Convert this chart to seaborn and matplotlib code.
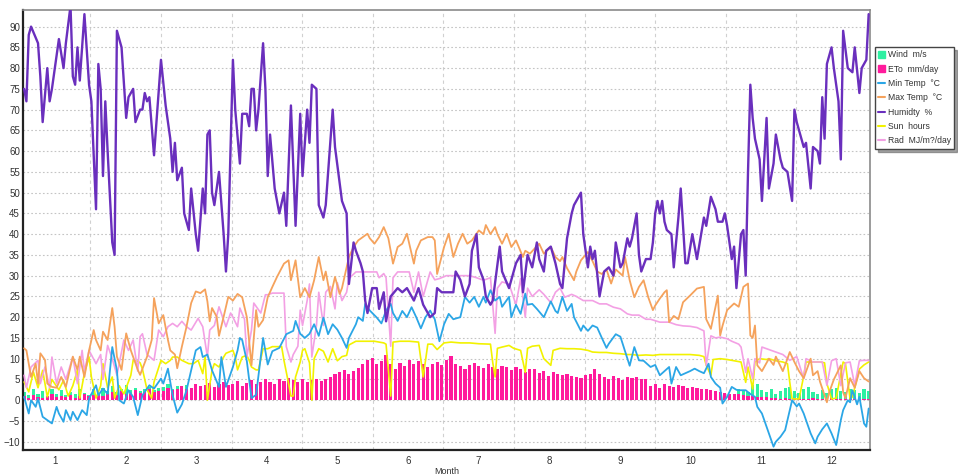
import numpy as np
import pandas as pd
import matplotlib
matplotlib.use("Agg")
import matplotlib.pyplot as plt
import matplotlib.patches as mpatches
from matplotlib.lines import Line2D
from matplotlib.ticker import FixedLocator
import seaborn as sns

months = list(range(1, 13))
y_ticks = list(range(-10, 95, 5))

# bar series, one value every second day of the year
bar_days = list(range(1, 366, 2))
eto = [1.0, 0.6, 1.2, 0.8, 0.5, 1.0, 1.4, 0.7, 1.1, 0.8, 1.2, 0.6, 1.0, 1.5, 0.9,
       1.2, 1.8, 1.0, 1.6, 2.0, 1.3, 2.2, 1.6, 1.4, 2.4, 1.8, 2.0, 2.6, 1.9, 2.3,
       2.2, 3.0, 2.5, 2.8, 3.4, 2.6, 3.0, 4.0, 3.3, 3.6, 4.2, 3.2, 3.8, 4.4, 3.6,
       3.8, 4.6, 3.4, 4.2, 4.8, 3.9, 4.4, 5.2, 4.5, 4.0, 5.0, 4.6, 5.4, 4.8, 4.4,
       5.0, 4.4, 4.8, 5.2, 4.6, 5.0, 5.6, 6.2, 6.8, 7.2, 6.4, 7.0, 7.8, 8.6, 9.6,
       10.2, 8.6, 9.4, 11.0, 8.8, 7.4, 9.0, 8.2, 9.6, 8.8, 9.4, 8.6, 8.0, 8.8, 9.2,
       8.4, 9.6, 10.6, 8.8, 8.2, 7.6, 8.4, 9.0, 8.2, 7.8, 8.6, 8.0, 7.4, 8.2, 8.0,
       7.2, 8.0, 7.4, 6.8, 7.6, 7.4, 6.6, 7.0, 5.8, 6.8, 6.2, 6.0, 6.4, 5.8, 5.6,
       5.4, 6.0, 6.2, 7.6, 6.4, 5.6, 5.2, 5.8, 5.4, 4.8, 5.6, 5.4, 5.6, 5.2, 5.0,
       3.4, 3.8, 3.0, 4.0, 3.5, 3.2, 3.6, 3.4, 3.0, 3.2, 2.9, 2.8, 2.6, 2.4, 2.2,
       2.0, 1.8, 1.6, 1.5, 1.4, 1.2, 1.1, 1.0, 0.8, 0.8, 0.7, 0.6, 0.5, 0.4, 0.5,
       0.4, 0.5, 0.4, 0.3, 0.4, 0.5, 0.4, 0.3, 0.4, 0.5, 0.4, 0.3, 0.4, 0.5, 0.4, 0.4, 0.3, 0.4]
wind = [2.0, 1.2, 2.6, 1.4, 2.2, 1.0, 2.8, 1.6, 2.4, 1.2, 2.0, 1.4, 2.6, 1.8, 1.2,
        2.6, 1.8, 3.0, 2.2, 3.4, 2.0, 2.8, 3.6, 2.4, 3.0, 2.2, 2.8, 3.2, 2.4, 3.0,
        3.2, 3.8, 2.6, 3.4, 3.0, 3.6, 2.8, 3.2, 3.0, 2.6, 3.2, 2.8, 3.0, 3.4, 2.8,
        2.8, 3.0, 2.6, 3.2, 2.8, 3.0, 2.6, 3.0, 2.8, 2.6, 3.0, 2.8, 3.2, 2.6, 3.0,
        3.0, 2.8, 3.2, 2.6, 3.0, 3.2, 2.8, 3.0, 3.4, 3.0, 3.2, 2.8, 3.0, 3.2, 3.0,
        3.2, 3.0, 3.4, 2.8, 3.2, 3.0, 3.4, 2.8, 3.0, 3.2, 3.0, 2.8, 3.2, 3.0, 3.2,
        3.0, 3.2, 2.8, 3.0, 3.2, 2.8, 3.0, 3.2, 2.8, 3.0, 3.2, 3.0, 2.8, 3.0, 3.2,
        2.8, 3.0, 2.6, 2.8, 3.0, 2.6, 2.8, 3.0, 2.6, 2.8, 3.0, 2.8, 2.6, 2.8, 2.6,
        2.6, 2.8, 2.4, 2.6, 2.8, 2.4, 2.6, 2.4, 2.6, 2.2, 2.4, 2.6, 2.2, 2.4, 2.2,
        2.0, 1.8, 2.2, 1.6, 2.0, 1.8, 1.6, 1.8, 1.4, 1.6, 1.8, 1.6, 1.4, 1.6, 1.4,
        1.6, 1.4, 1.2, 1.0, 2.8, 2.2, 2.0, 3.6, 4.0, 2.4, 2.0, 2.8, 1.6, 2.2, 3.0,
        3.2, 2.2, 1.8, 2.6, 3.2, 2.0, 1.6, 2.4, 1.8, 2.6, 3.0, 2.2, 2.0, 2.8, 2.4, 1.8, 2.6, 2.2]

# line series as (day of year, value)
humidity = [(1, 75), (2, 72), (3, 88), (4, 90), (7, 86), (8, 78), (9, 67), (11, 80), (12, 72), (13, 75),
            (16, 87), (18, 80), (19, 86), (21, 95), (22, 78), (23, 76), (24, 85), (25, 77), (27, 93), (29, 76),
            (30, 72), (32, 46), (33, 81), (34, 75), (35, 54), (36, 72), (37, 60), (39, 38), (40, 35), (41, 89),
            (43, 85), (45, 68), (46, 73), (48, 75), (49, 67), (51, 70), (52, 70), (53, 74), (54, 72), (55, 73),
            (57, 59), (60, 82), (62, 71), (64, 63), (65, 55), (66, 62), (67, 53), (69, 56), (70, 45), (72, 41),
            (73, 51), (75, 40), (76, 36), (78, 51), (79, 45), (80, 64), (81, 65), (82, 50), (83, 47), (85, 55),
            (87, 40), (88, 31), (89, 40), (91, 82), (92, 70), (94, 57), (95, 69), (97, 69), (98, 66), (99, 75),
            (100, 75), (101, 65), (102, 70), (104, 86), (105, 75), (106, 54), (107, 64), (109, 51), (111, 45), (113, 50),
            (114, 42), (116, 71), (118, 42), (120, 69), (121, 54), (123, 70), (124, 62), (125, 76), (127, 75), (128, 47),
            (130, 44), (131, 47), (134, 70), (135, 61), (138, 48), (140, 45), (141, 28), (143, 38), (144, 36), (146, 33),
            (147, 31), (148, 24), (149, 21), (151, 27), (153, 27), (154, 22), (156, 26), (157, 19), (159, 25), (162, 27),
            (164, 26), (166, 27), (168, 25), (169, 24), (171, 27), (173, 23), (176, 20), (178, 21), (179, 27), (181, 26),
            (183, 26), (186, 26), (187, 31), (189, 29), (191, 25), (193, 28), (194, 36), (196, 40), (197, 32), (199, 29),
            (200, 25), (202, 23), (203, 24), (206, 37), (207, 31), (210, 27), (213, 33), (215, 35), (216, 26), (218, 35),
            (220, 32), (222, 38), (223, 34), (225, 31), (226, 36), (228, 37), (230, 33), (232, 28), (233, 27), (235, 39),
            (237, 45), (238, 47), (241, 50), (242, 40), (244, 32), (245, 37), (246, 34), (247, 36), (249, 25), (251, 31),
            (253, 32), (255, 30), (256, 38), (258, 32), (259, 33), (261, 39), (262, 37), (263, 39), (265, 45), (266, 35),
            (267, 31), (269, 34), (271, 34), (272, 38), (273, 45), (274, 48), (275, 45), (276, 48), (277, 43), (278, 41),
            (280, 40), (281, 32), (283, 44), (284, 51), (286, 33), (287, 33), (289, 40), (291, 34), (294, 44), (295, 42),
            (297, 49), (299, 46), (300, 43), (302, 43), (303, 45), (304, 42), (306, 34), (307, 37), (308, 27), (310, 40),
            (311, 41), (312, 30), (313, 55), (314, 76), (315, 68), (316, 63), (318, 58), (319, 48), (321, 68), (322, 51),
            (324, 57), (325, 64), (327, 58), (328, 56), (330, 55), (332, 48), (333, 70), (334, 67), (337, 61), (338, 62),
            (340, 51), (341, 61), (343, 60), (344, 57), (345, 73), (346, 63), (347, 81), (349, 85), (350, 80), (352, 72),
            (353, 58), (354, 89), (356, 80), (358, 79), (359, 85), (361, 74), (362, 80), (364, 82), (365, 93)]

max_temp = [(1, 12.5), (2, 12), (4, 5.6), (6, 8.8), (7, 4), (8, 11.3), (10, 9.7), (11, 4), (13, 3.2), (15, 3),
            (17, 5.6), (19, 3.2), (22, 10.5), (24, 7.3), (25, 10.5), (27, 5.6), (29, 12), (31, 16.9), (32, 14.5), (34, 12),
            (35, 16.5), (37, 14.5), (39, 22.2), (40, 17.7), (41, 10.5), (43, 7.3), (45, 16.1), (47, 12), (50, 7.3), (51, 6.1),
            (54, 10.5), (56, 14.5), (57, 24.6), (59, 18.5), (61, 20.5), (63, 14.5), (64, 12), (66, 11), (67, 7.7), (69, 12.9),
            (71, 17.7), (73, 23.4), (75, 26.2), (77, 25.8), (79, 26.7), (80, 23.8), (81, 19), (82, 22.2), (84, 20.1), (85, 15.5),
            (87, 20.1), (89, 24.9), (91, 24), (93, 25.6), (95, 24.8), (97, 20), (99, 8.4), (101, 21.7), (102, 17.7), (104, 19.3),
            (106, 24.8), (108, 27.3), (110, 29.7), (113, 32.9), (115, 33.7), (116, 28.9), (118, 33.7), (120, 24.8), (122, 27), (124, 24.8),
            (126, 28.9), (128, 34.5), (130, 28.9), (131, 31), (133, 24.8), (135, 29.7), (137, 25.6), (138, 27), (141, 34.5), (143, 36.9),
            (145, 38.5), (147, 39.3), (149, 40.1), (150, 39), (152, 37.7), (154, 39.3), (156, 41.7), (158, 39), (160, 32.9), (162, 36.9),
            (164, 37.7), (166, 40.1), (169, 32.9), (170, 36), (172, 38.5), (175, 39.3), (177, 39.3), (178, 38.5), (179, 30.4), (182, 36.9),
            (184, 40.1), (186, 34.5), (188, 37.7), (190, 40.1), (192, 37.7), (194, 38.5), (197, 40.9), (199, 40), (200, 42.2), (202, 40),
            (204, 41.7), (205, 40), (207, 37.7), (209, 40.1), (211, 36.9), (213, 38.5), (216, 34.5), (217, 36), (219, 35.3), (221, 36.5),
            (223, 37.7), (225, 35.3), (228, 36.9), (230, 34.5), (232, 33.5), (233, 34.5), (235, 31.8), (238, 28.9), (239, 31), (241, 33.7),
            (244, 35.7), (246, 33.5), (248, 31), (250, 30.4), (252, 31.5), (254, 28.1), (256, 31.5), (259, 30), (260, 34.5), (262, 28.9),
            (264, 24.8), (266, 27.3), (268, 28.9), (270, 24.8), (272, 21.7), (273, 22.8), (275, 24.5), (277, 26), (278, 26.5), (279, 18.8),
            (281, 20.3), (283, 19.5), (285, 23.6), (288, 25.2), (291, 26.9), (294, 27.3), (295, 19.5), (297, 17.2), (300, 25.2), (301, 15.6),
            (302, 17.9), (304, 21.7), (307, 23.3), (309, 22.5), (311, 27.3), (313, 28.1), (314, 15.6), (315, 15), (316, 18), (317, 8.4),
            (319, 7), (322, 10), (324, 8.5), (325, 10.5), (328, 7), (330, 10), (331, 11.6), (333, 9.2), (335, 7), (337, 5.3),
            (340, 10), (341, 6), (343, 7), (344, 4.5), (347, -0.5), (348, 1.9), (350, 5), (353, 8.4), (354, 1.9), (355, 0.5),
            (357, 5.3), (359, 3), (361, 7), (363, 5.3), (365, 4.5)]

min_temp = [(1, 0.8), (3, -3.2), (4, 0), (6, -1.6), (7, 0.4), (9, -4), (11, -4.8), (13, -5.6), (15, -1.6), (16, -3.2),
            (18, -5.2), (19, -2.4), (21, -4.8), (22, -2.8), (24, -4.8), (26, -2.4), (28, -3.6), (29, 0.4), (32, 3.6), (33, 1.2),
            (35, 2.8), (37, 1.5), (39, 12.8), (41, 7.2), (42, 0), (44, -0.8), (46, 2.4), (48, 0.8), (50, -3.6), (52, 1.2),
            (55, 3.6), (57, 2.8), (60, 5.2), (61, 4), (63, 7.6), (65, 1.2), (67, -3), (69, -1), (71, 2.4), (73, 7.2),
            (75, 12), (77, 12.8), (78, 10.4), (80, 11), (82, 7.2), (85, 3.2), (86, 10.4), (88, 3.2), (91, 8), (93, 12),
            (94, 15), (95, 14.5), (97, 9.4), (99, 0.5), (101, 1.3), (104, 15), (106, 8.6), (108, 11.8), (111, 12.6), (114, 15.9),
            (117, 16.7), (118, 19.1), (120, 16), (122, 15), (124, 16), (126, 18.3), (128, 15.5), (130, 19.9), (132, 15.9), (134, 18.3),
            (136, 17), (138, 15), (140, 12.6), (141, 15), (144, 18.3), (145, 20), (147, 19.1), (148, 23.2), (150, 21.6), (153, 19.9),
            (155, 18.5), (157, 21.6), (159, 23.2), (160, 21), (162, 19.1), (164, 21.5), (166, 20), (168, 22.4), (170, 20), (172, 17.3),
            (174, 20), (176, 21.6), (178, 19.5), (180, 14.2), (182, 18.3), (184, 20.8), (186, 19.5), (189, 20), (191, 24.9), (193, 23.5),
            (195, 24.9), (197, 22.5), (199, 24.9), (200, 23.5), (202, 26.5), (204, 24), (206, 24.9), (207, 22.5), (210, 24.9), (211, 20),
            (213, 23), (215, 20.8), (217, 25.7), (218, 23), (220, 23.2), (222, 22), (225, 20), (228, 23.8), (230, 21.5), (231, 21),
            (233, 24.9), (235, 21.5), (237, 23.2), (238, 20), (241, 16.7), (242, 18), (244, 16.7), (246, 18), (248, 17.5), (250, 15),
            (252, 12.6), (253, 13.6), (256, 15.9), (258, 15.3), (260, 11.8), (262, 8.3), (264, 12.8), (266, 9.6), (268, 9.5), (271, 8),
            (273, 8.5), (275, 6), (277, 7), (279, 8), (280, 4), (282, 8), (284, 6), (286, 6.5), (288, 7), (290, 7.6),
            (292, 7), (294, 6.5), (296, 8.8), (297, 5.6), (299, 4), (301, 3), (302, -0.8), (304, 0.8), (306, 3.2), (308, 2.5),
            (309, 2.4), (312, 2.4), (314, 1.5), (316, 0.8), (317, -1.6), (319, -3.2), (321, -6.4), (324, -11.2), (325, -10), (327, -8.8),
            (329, -7.2), (331, -2.4), (332, 0), (334, -1.5), (335, -0.8), (337, -3.2), (340, -8), (342, -10.4), (343, -8.8), (345, -7),
            (347, -5.6), (349, -8), (351, -10.8), (353, -4.8), (354, -2.4), (356, 0), (357, -0.5), (358, 2.4), (360, -1), (361, 0.8),
            (363, -5.6), (364, -6.4), (365, -2)]

rad = [(1, 6), (2, 3), (4, 8), (7, 9.6), (8, 4), (10, 8), (12, 3), (13, 10.4), (15, 4), (17, 8),
       (19, 5), (22, 10.4), (24, 4), (26, 12), (27, 7), (29, 12), (32, 8.8), (34, 11), (35, 5), (37, 13.2),
       (39, 10), (41, 6), (44, 14.5), (46, 12), (48, 14.5), (50, 7), (51, 15.3), (52, 16), (54, 11), (57, 9.6),
       (59, 16.9), (61, 15.3), (63, 17.7), (65, 18.5), (67, 17.7), (69, 19), (71, 17.7), (73, 16.9), (76, 19.7), (78, 17.7),
       (80, 10.4), (81, 16.9), (83, 18), (85, 22.5), (88, 17.7), (90, 21), (91, 20), (93, 17.7), (94, 22.2), (96, 19.5),
       (97, 10.4), (99, 16.9), (100, 23.4), (103, 21), (105, 25.4), (106, 25.4), (108, 25.8), (110, 25.8), (113, 25.8), (114, 12.9),
       (116, 9.2), (117, 11), (119, 13), (120, 21.7), (121, 18), (123, 24), (124, 28), (125, 10.4), (127, 18), (128, 26),
       (130, 18), (131, 26), (133, 27.4), (135, 22), (136, 28.3), (138, 24), (140, 26), (141, 29.3), (144, 30.9), (147, 30.9),
       (150, 30.9), (153, 30.9), (154, 29.5), (156, 30.5), (157, 29.5), (159, 13), (160, 29.5), (162, 30.9), (167, 30.9), (169, 26),
       (171, 30.9), (173, 25), (176, 30.9), (178, 29), (180, 29.3), (183, 30), (187, 30), (190, 30), (193, 30), (196, 29.5),
       (199, 28.9), (202, 29.5), (204, 16.1), (205, 27), (207, 28.5), (210, 28), (213, 23), (215, 29.3), (217, 20), (218, 27),
       (220, 25), (223, 26.6), (225, 25.5), (228, 23.5), (230, 26), (232, 27), (234, 24.8), (237, 25.5), (239, 25), (242, 24),
       (246, 24), (249, 23.2), (252, 23.2), (255, 22.4), (258, 22), (261, 20.8), (263, 20.5), (266, 20.5), (269, 19.5), (271, 19.5),
       (275, 18.8), (279, 18.8), (282, 18.2), (285, 17.9), (288, 17.8), (291, 17.5), (294, 16.7), (295, 8.4), (297, 15.5), (299, 15),
       (301, 15.2), (304, 14.8), (306, 14.2), (309, 13.5), (310, 12.8), (312, 6.7), (313, 10), (315, 5.2), (316, 10), (318, 9),
       (319, 12.8), (322, 12.2), (325, 11.6), (328, 11), (331, 9.6), (334, 10.5), (337, 5.2), (338, 10), (341, 9.2), (344, 9.2),
       (345, 9.2), (347, 3.6), (349, 9.5), (351, 10), (353, 3.5), (355, 9), (357, 9.2), (359, 3.6), (361, 9.5), (363, 9.6),
       (365, 9.6)]

sun = [(1, 4.4), (3, 2), (5, 6.8), (7, 3), (9, 7.2), (11, 0.8), (13, 5), (16, 2.5), (18, 4.8), (20, 1),
       (22, 3.5), (24, 7.3), (25, 0.5), (27, 6.5), (29, 10.4), (30, 5.6), (32, 0.5), (34, 3.5), (35, 8.8), (37, 3),
       (39, 5.6), (40, 0.5), (42, 3.5), (44, 1.5), (47, 6), (48, 9.6), (50, 9.4), (51, 9), (52, 7.5), (54, 2.5),
       (56, 0.5), (57, 4.4), (60, 9.6), (62, 8.8), (64, 9.6), (65, 10.4), (67, 10.4), (69, 9.6), (72, 8.8), (74, 8.8),
       (76, 9.6), (78, 6.4), (79, 10.4), (80, 0), (82, 7.2), (83, 8.8), (85, 8), (87, 10.4), (88, 11.3), (91, 12),
       (92, 10.4), (93, 7.3), (95, 10.4), (97, 10.8), (98, 9.6), (99, 8), (101, 7.3), (102, 7.3), (104, 12.4), (106, 12.4),
       (108, 12.9), (110, 12.9), (112, 12.9), (113, 9.6), (115, 4), (116, 1), (117, 1), (118, 5.6), (120, 9.2), (121, 12),
       (122, 12.4), (124, 9), (125, 0), (126, 10), (128, 12.4), (130, 11.8), (132, 9.2), (134, 12.4), (136, 9.5), (138, 10.5),
       (140, 10.8), (141, 13.3), (144, 14.2), (148, 14.2), (152, 14.2), (156, 13.8), (157, 13.5), (159, 1), (160, 14), (163, 14.2),
       (167, 14.2), (171, 14), (173, 5.6), (175, 13.5), (177, 13.5), (179, 12.2), (182, 13.8), (185, 14), (189, 13.8), (193, 13.8),
       (197, 13.6), (202, 13.5), (203, 9), (204, 5.6), (205, 12.5), (207, 12.8), (210, 13.2), (212, 12.5), (215, 12), (217, 6.7),
       (218, 12.5), (220, 13), (223, 13.2), (225, 10), (228, 8.4), (229, 12), (232, 12.5), (235, 12.4), (238, 12.4), (241, 12.3),
       (244, 12), (246, 11.6), (249, 11.5), (252, 11.5), (255, 11.3), (258, 11.2), (261, 11), (263, 11), (266, 10.8), (269, 10.9),
       (272, 10.8), (275, 11), (279, 11), (284, 11), (288, 11), (292, 10.8), (294, 10.5), (295, 8.4), (297, 6), (298, 9.8),
       (301, 10), (304, 9.8), (306, 9.6), (310, 9.2), (312, 4.3), (313, 8), (315, 2.7), (316, 9.2), (318, 10), (321, 9.8),
       (322, 10), (325, 9.5), (328, 9.2), (330, 8.8), (331, 4.3), (332, 0.3), (335, 0.3), (337, 5.8), (338, 9.2), (341, 9.2),
       (344, 9.2), (346, 9), (347, 4), (349, 0.3), (351, 0.5), (354, 9.2), (355, 8.8), (357, 0.3), (358, 0.8), (361, 7.5),
       (363, 8.5), (365, 9.2)]

labels = ["Wind  m/s", "ETo  mm/day", "Min Temp  \u00b0C", "Max Temp  \u00b0C",
          "Humidty  %", "Sun  hours", "Rad  MJ/m?/day"]
c_wind, c_eto = "#2ef0a2", "#ff1a9c"
c_min, c_max, c_hum, c_sun, c_rad = "#2ba6e6", "#f5a25c", "#6a2fbd", "#f2f200", "#f3a0e4"

sns.set_style("white")
plt.rcParams['font.family'] = ['Liberation Sans', 'DejaVu Sans']

fig = plt.figure(figsize=(9.58, 4.76), dpi=100)
ax = fig.add_axes([0.0237, 0.0546, 0.8845, 0.9244])

# bars: wind underneath, ETo on top
ax.bar(bar_days, wind, width=1.35, color=c_wind, linewidth=0, zorder=2)
ax.bar(bar_days, eto, width=1.35, color=c_eto, linewidth=0, zorder=2.2)

series = [(sun, c_sun, 1.2, 3.0), (rad, c_rad, 1.2, 3.1), (min_temp, c_min, 1.3, 3.2),
          (max_temp, c_max, 1.3, 3.3), (humidity, c_hum, 1.7, 3.5)]
for pairs, col, lw, z in series:
    df = pd.DataFrame(pairs, columns=["day", "value"])
    sns.lineplot(data=df, x="day", y="value", ax=ax, color=col, linewidth=lw,
                 estimator=None, legend=False, zorder=z)

month_len = 365 / 12
centers = [(m - 0.5) * month_len - 0.8 for m in months]
bounds = [m * month_len - 0.8 for m in months[:-1]]

ax.set_xlim(0.4, 365.6)
ax.set_ylim(-12, 94)
ax.set_xticks(centers)
ax.set_xticklabels([str(m) for m in months])
ax.set_yticks(y_ticks)
ax.xaxis.set_minor_locator(FixedLocator(bounds))
ax.yaxis.grid(True, color="#c4c4c4", linestyle=(0, (1.5, 2)), linewidth=0.8)
ax.xaxis.grid(True, which="minor", color="#d0d0d0", linestyle=(0, (3, 3)), linewidth=0.8)
ax.xaxis.grid(False, which="major")
ax.set_axisbelow(True)
ax.tick_params(axis="both", which="both", length=0, labelsize=7, labelcolor="#333333", pad=2)
ax.tick_params(axis="x", pad=4)
ax.set_xlabel("Month", fontsize=6.5, color="#333333", labelpad=1)
ax.set_ylabel("")

for side in ["left", "bottom"]:
    ax.spines[side].set_color("#222222")
    ax.spines[side].set_linewidth(1.6)
for side in ["top", "right"]:
    ax.spines[side].set_color("#8a8a8a")
    ax.spines[side].set_linewidth(1.2)

handles = [mpatches.Patch(color=c_wind), mpatches.Patch(color=c_eto),
           Line2D([], [], color=c_min, lw=1.5), Line2D([], [], color=c_max, lw=1.5),
           Line2D([], [], color=c_hum, lw=1.5), Line2D([], [], color=c_sun, lw=1.5),
           Line2D([], [], color=c_rad, lw=1.5)]
leg = fig.legend(handles, labels, loc="upper left", bbox_to_anchor=(875 / 958, 1 - 47 / 476),
                 fontsize=6.2, frameon=True, fancybox=False, shadow=True, framealpha=1,
                 edgecolor="#444444", borderpad=0.4, labelspacing=0.62,
                 handlelength=0.8, handleheight=0.8, handletextpad=0.3, borderaxespad=0)
leg.get_frame().set_linewidth(1.0)
for t in leg.get_texts():
    t.set_color("#333333")

fig.savefig("out.png", dpi=100)
